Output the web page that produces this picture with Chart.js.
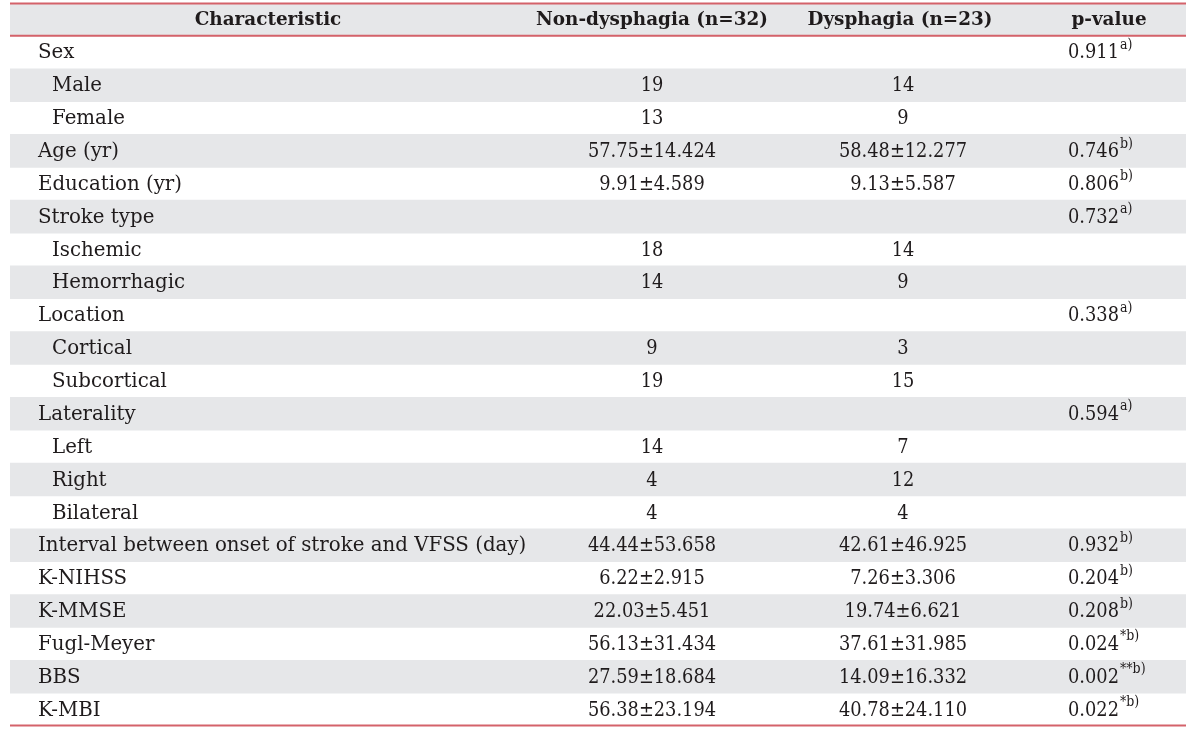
<!DOCTYPE html>
<html>
<head>
<meta charset="utf-8">
<script src="https://cdn.jsdelivr.net/npm/chart.js@4/dist/chart.umd.min.js"></script>
<style>
  html, body { margin: 0; padding: 0; background: #fff; }
  #wrap { width: 1200px; height: 731px; }
</style>
</head>
<body>
<div id="wrap"><canvas id="table" width="1200" height="731"></canvas></div>
<script>
// Données du tableau
const headers = ['Characteristic', 'Non-dysphagia (n=32)', 'Dysphagia (n=23)', 'p-value'];
const characteristics = ['Sex', 'Male', 'Female', 'Age (yr)', 'Education (yr)', 'Stroke type', 'Ischemic',
  'Hemorrhagic', 'Location', 'Cortical', 'Subcortical', 'Laterality', 'Left', 'Right', 'Bilateral',
  'Interval between onset of stroke and VFSS (day)', 'K-NIHSS', 'K-MMSE', 'Fugl-Meyer', 'BBS', 'K-MBI'];
const subItems = [false, true, true, false, false, false, true, true, false, true, true, false, true, true, true,
  false, false, false, false, false, false];
const nonDysphagia = ['', '19', '13', '57.75±14.424', '9.91±4.589', '', '18', '14', '', '9', '19', '', '14', '4', '4',
  '44.44±53.658', '6.22±2.915', '22.03±5.451', '56.13±31.434', '27.59±18.684', '56.38±23.194'];
const dysphagia = ['', '14', '9', '58.48±12.277', '9.13±5.587', '', '14', '9', '', '3', '15', '', '7', '12', '4',
  '42.61±46.925', '7.26±3.306', '19.74±6.621', '37.61±31.985', '14.09±16.332', '40.78±24.110'];
const pValues = ['0.911', '', '', '0.746', '0.806', '0.732', '', '', '0.338', '', '', '0.594', '', '', '',
  '0.932', '0.204', '0.208', '0.024', '0.002', '0.022'];
const pNotes = ['a)', '', '', 'b)', 'b)', 'a)', '', '', 'a)', '', '', 'a)', '', '', '',
  'b)', 'b)', 'b)', '*b)', '**b)', '*b)'];

const rowLabels = ['header'].concat(characteristics);

// positions des colonnes (pixels -> échelle x de 10 à 1186)
const col = { label: 38, sub: 52, non: 652, dys: 903, pLeft: 1068 };
const headCol = [268, 652, 900, 1109];

const FONT = '"DejaVu Serif", serif';
const TEXT = '#1f1b1c';
const GREY = '#e6e7e9';
const RED = '#d4626a';
const NARROW = 0.9; // chiffres un peu plus étroits

// texte chiffré, légèrement condensé
function narrowText(ctx, str, x, y, align) {
  ctx.save();
  ctx.translate(x, y);
  ctx.scale(NARROW, 1);
  ctx.textAlign = align;
  ctx.fillText(str, 0, 0);
  const w = ctx.measureText(str).width * NARROW;
  ctx.restore();
  return w;
}

const tablePlugin = {
  id: 'tableText',
  afterDatasetsDraw(chart) {
    const ctx = chart.ctx;
    const xs = chart.scales.x, ys = chart.scales.y;
    const area = chart.chartArea;
    const half = (ys.getPixelForValue(1) - ys.getPixelForValue(0)) / 2;
    ctx.save();
    // lignes rouges
    ctx.strokeStyle = RED;
    ctx.lineWidth = 2;
    [area.top + 0.5, ys.getPixelForValue(0) + half, area.bottom - 0.5].forEach(y => {
      ctx.beginPath();
      ctx.moveTo(area.left, y);
      ctx.lineTo(area.right, y);
      ctx.stroke();
    });
    ctx.fillStyle = TEXT;
    ctx.textBaseline = 'middle';
    // en-tête
    ctx.font = 'bold 18.4px ' + FONT;
    ctx.textAlign = 'center';
    const hy = ys.getPixelForValue(0) + 1;
    headers.forEach((h, i) => ctx.fillText(h, xs.getPixelForValue(headCol[i]), hy));
    // lignes
    characteristics.forEach((name, i) => {
      const y = ys.getPixelForValue(i + 1) + 1;
      ctx.font = '19.8px ' + FONT;
      ctx.textAlign = 'left';
      ctx.fillText(name, xs.getPixelForValue(subItems[i] ? col.sub : col.label), y);
      narrowText(ctx, nonDysphagia[i], xs.getPixelForValue(col.non), y, 'center');
      narrowText(ctx, dysphagia[i], xs.getPixelForValue(col.dys), y, 'center');
      if (pValues[i]) {
        const px = xs.getPixelForValue(col.pLeft);
        const w = narrowText(ctx, pValues[i], px, y, 'left');
        ctx.font = '14px ' + FONT;
        narrowText(ctx, pNotes[i], px + w + 1, y - 8, 'left');
      }
    });
    ctx.restore();
  }
};

new Chart(document.getElementById('table'), {
  type: 'bar',
  data: {
    labels: rowLabels,
    datasets: [{
      label: 'rows',
      data: rowLabels.map(() => [10, 1186]),
      backgroundColor: rowLabels.map((_, i) => i % 2 === 0 ? GREY : 'rgba(0,0,0,0)'),
      borderWidth: 0,
      barPercentage: 1,
      categoryPercentage: 1
    }]
  },
  options: {
    indexAxis: 'y',
    responsive: false,
    animation: false,
    layout: { padding: { left: 10, right: 14, top: 3, bottom: 5 } },
    scales: {
      x: { type: 'linear', min: 10, max: 1186, display: false },
      y: { display: false }
    },
    plugins: {
      legend: { display: false },
      tooltip: { enabled: false }
    }
  },
  plugins: [tablePlugin]
});
</script>
</body>
</html>
